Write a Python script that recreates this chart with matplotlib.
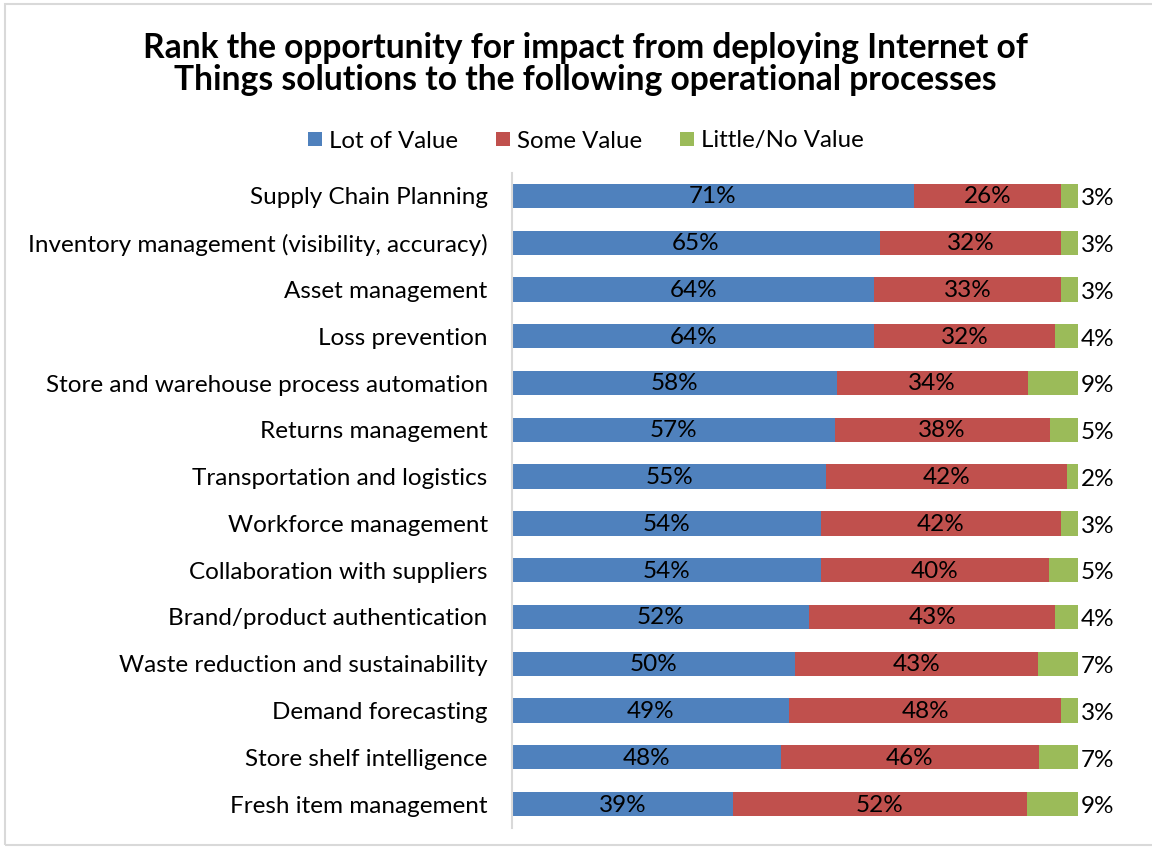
import matplotlib
matplotlib.use("Agg")
import matplotlib.pyplot as plt
from matplotlib.patches import Rectangle
import numpy as np

plt.rcParams['font.family'] = ['Lato', 'DejaVu Sans']

categories = [
    "Supply Chain Planning",
    "Inventory management (visibility, accuracy)",
    "Asset management",
    "Loss prevention",
    "Store and warehouse process automation",
    "Returns management",
    "Transportation and logistics",
    "Workforce management",
    "Collaboration with suppliers",
    "Brand/product authentication",
    "Waste reduction and sustainability",
    "Demand forecasting",
    "Store shelf intelligence",
    "Fresh item management",
]
lot_of_value = [71, 65, 64, 64, 58, 57, 55, 54, 54, 52, 50, 49, 48, 39]
some_value = [26, 32, 33, 32, 34, 38, 42, 42, 40, 43, 43, 48, 46, 52]
little_value = [3, 3, 3, 4, 9, 5, 2, 3, 5, 4, 7, 3, 7, 9]
series_names = ["Lot of Value", "Some Value", "Little/No Value"]
colors = ["#4F81BD", "#C0504D", "#9BBB59"]

title = "Rank the opportunity for impact from deploying Internet of\nThings solutions to the following operational processes"

W, H = 1152, 848
fig = plt.figure(figsize=(W / 100, H / 100), dpi=100)

# outer frame
fig.patches.append(Rectangle((5 / W, 1 - 845 / H), 1.2, 841 / H, transform=fig.transFigure,
                             fill=False, edgecolor="#D9D9D9", linewidth=1.5))

ax = fig.add_axes([512 / W, 1 - 827.5 / H, 566 / W, 655 / H])

lot = np.array(lot_of_value, float)
some = np.array(some_value, float)
little = np.array(little_value, float)
total = lot + some + little
vals = [lot / total * 100, some / total * 100, little / total * 100]
labels = [lot_of_value, some_value, little_value]

FS = 17.5
y = np.arange(len(categories))
left = np.zeros(len(categories))
for i, (v, c, name) in enumerate(zip(vals, colors, series_names)):
    ax.barh(y, v, left=left, height=0.52, color=c, label=name, edgecolor='none')
    for j in range(len(categories)):
        if i < 2:
            ax.text(left[j] + v[j] / 2, y[j] + 0.02, f"{labels[i][j]}%", ha='center', va='center',
                    fontsize=FS, color='black')
        else:
            ax.text(left[j] + v[j] + 0.5, y[j] + 0.06, f"{labels[i][j]}%", ha='left', va='center',
                    fontsize=FS, color='black', clip_on=False)
    left = left + v

ax.set_xlim(0, 100)
ax.set_ylim(len(categories) - 0.5, -0.5)
ax.set_yticks(y)
ax.set_yticklabels(categories, fontsize=FS)
ax.tick_params(axis='y', length=0, pad=17.5)
ax.set_xticks([])
for s in ['top', 'right', 'bottom']:
    ax.spines[s].set_visible(False)
ax.spines['left'].set_color('#D9D9D9')
ax.spines['left'].set_linewidth(1.5)

fig.text(585 / W, 1 - 64 / H, title, ha='center', va='center', fontsize=24.2,
         fontweight='bold', linespacing=1.0)

handles, lbls = ax.get_legend_handles_labels()
fig.legend(handles, lbls, loc='center', bbox_to_anchor=(586 / W, 1 - 141 / H), ncol=3,
           frameon=False, fontsize=17.3, handlelength=0.55, handleheight=0.55,
           handletextpad=0.3, columnspacing=1.6)

fig.savefig("out.png", dpi=100)
